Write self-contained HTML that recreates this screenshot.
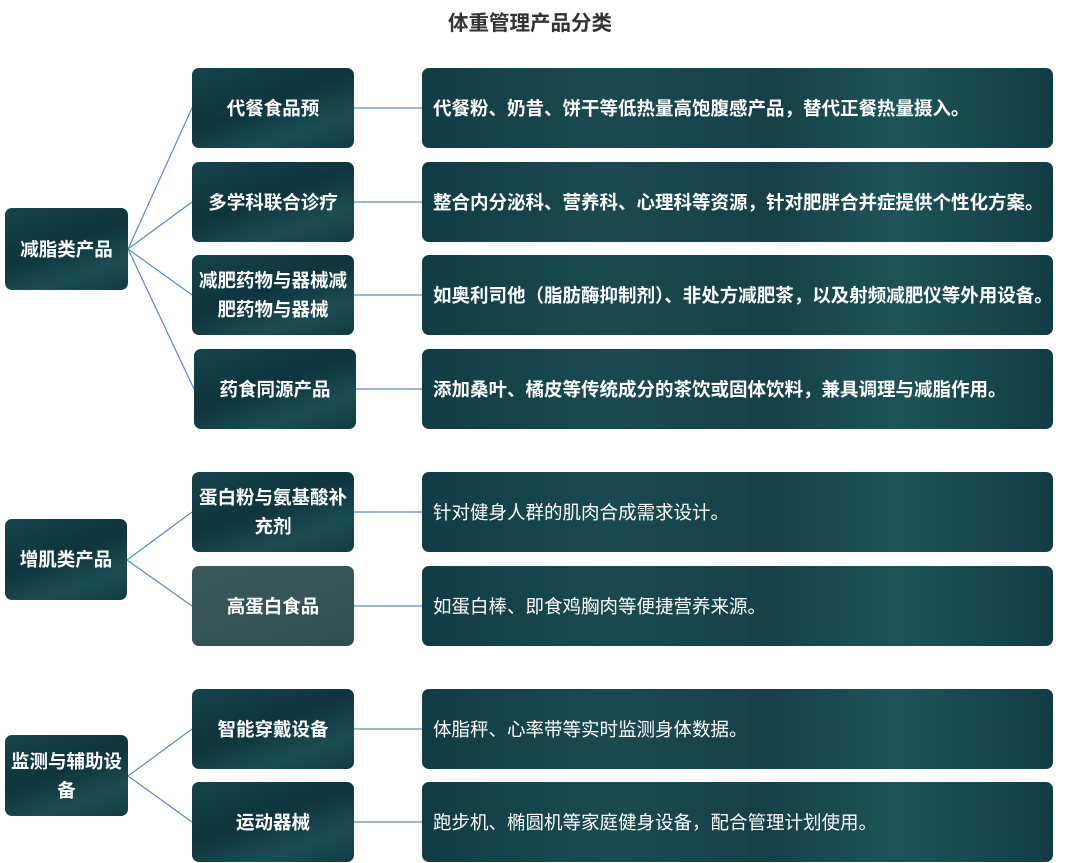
<!DOCTYPE html>
<html><head><meta charset="utf-8"><style>
body{margin:0;width:1080px;height:863px;background:#fff;position:relative;overflow:hidden;font-family:"Liberation Sans","Noto Sans CJK SC",sans-serif;}
.t{position:absolute;left:0;width:1060px;top:6px;text-align:center;font-size:20.5px;font-weight:bold;color:#333;}
.b{position:absolute;border-radius:7px;color:#fff;font-size:18.5px;font-weight:bold;display:flex;align-items:center;justify-content:center;text-align:center;line-height:29px;
background:linear-gradient(160deg,#15444c 0%,#0f343d 45%,#1a4d52 75%,#123a42 100%);box-sizing:border-box;padding:0 3px;}
.r{justify-content:flex-start;padding-left:11px;text-align:left;white-space:nowrap;overflow:hidden;
background:linear-gradient(90deg,#123c45 0%,#1a4a50 30%,#173f47 55%,#1d5458 75%,#123c45 100%);}
.n{font-weight:normal;}
svg{position:absolute;left:0;top:0;}
</style></head><body>
<div class="t">体重管理产品分类</div>
<svg width="1080" height="863"><g stroke="#5a8cc4" stroke-width="1.2" fill="none">
<line x1="128" y1="249" x2="192" y2="108"/><line x1="128" y1="249" x2="192" y2="202"/><line x1="128" y1="249" x2="192" y2="295"/><line x1="128" y1="249" x2="194" y2="389"/>
<line x1="127" y1="560" x2="192" y2="512"/><line x1="127" y1="560" x2="192" y2="606"/>
<line x1="128" y1="776" x2="192" y2="729"/><line x1="128" y1="776" x2="192" y2="822"/>
<line x1="354" y1="108" x2="422" y2="108"/><line x1="354" y1="202" x2="422" y2="202"/><line x1="354" y1="295" x2="422" y2="295"/><line x1="356" y1="389" x2="422" y2="389"/>
<line x1="354" y1="512" x2="422" y2="512"/><line x1="354" y1="606" x2="422" y2="606"/><line x1="354" y1="729" x2="422" y2="729"/><line x1="354" y1="822" x2="422" y2="822"/>
</g></svg>
<div class="b" style="left:5px;top:208px;width:123px;height:82px">减脂类产品</div>
<div class="b" style="left:5px;top:519px;width:122px;height:81px">增肌类产品</div>
<div class="b" style="left:5px;top:735px;width:123px;height:81px">监测与辅助设备</div>

<div class="b" style="left:192px;top:68px;width:162px;height:80px">代餐食品预</div>
<div class="b" style="left:192px;top:162px;width:162px;height:80px">多学科联合诊疗</div>
<div class="b" style="left:192px;top:255px;width:162px;height:80px">减肥药物与器械减肥药物与器械</div>
<div class="b" style="left:194px;top:349px;width:162px;height:80px">药食同源产品</div>
<div class="b" style="left:192px;top:472px;width:162px;height:80px">蛋白粉与氨基酸补充剂</div>
<div class="b" style="left:192px;top:566px;width:162px;height:80px;background:linear-gradient(160deg,#3b5a5a,#2e4e50)">高蛋白食品</div>
<div class="b" style="left:192px;top:689px;width:162px;height:80px">智能穿戴设备</div>
<div class="b" style="left:192px;top:782px;width:162px;height:80px">运动器械</div>

<div class="b r" style="left:422px;top:68px;width:631px;height:80px">代餐粉、奶昔、饼干等低热量高饱腹感产品，替代正餐热量摄入。</div>
<div class="b r" style="left:422px;top:162px;width:631px;height:80px">整合内分泌科、营养科、心理科等资源，针对肥胖合并症提供个性化方案。</div>
<div class="b r" style="left:422px;top:255px;width:631px;height:80px">如奥利司他（脂肪酶抑制剂）、非处方减肥茶，以及射频减肥仪等外用设备。</div>
<div class="b r" style="left:422px;top:349px;width:631px;height:80px">添加桑叶、橘皮等传统成分的茶饮或固体饮料，兼具调理与减脂作用。</div>
<div class="b r n" style="left:422px;top:472px;width:631px;height:80px">针对健身人群的肌肉合成需求设计。</div>
<div class="b r n" style="left:422px;top:566px;width:631px;height:80px">如蛋白棒、即食鸡胸肉等便捷营养来源。</div>
<div class="b r n" style="left:422px;top:689px;width:631px;height:80px">体脂秤、心率带等实时监测身体数据。</div>
<div class="b r n" style="left:422px;top:782px;width:631px;height:80px">跑步机、椭圆机等家庭健身设备，配合管理计划使用。</div>
</body></html>
